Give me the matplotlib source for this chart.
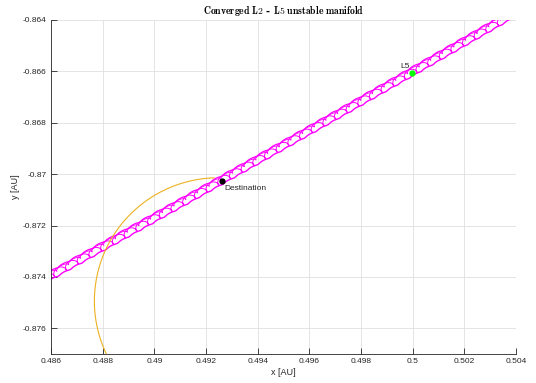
import numpy as np
import matplotlib.pyplot as plt

plt.rcParams['mathtext.fontset'] = 'cm'
plt.rcParams['font.family'] = ['Liberation Sans', 'DejaVu Sans']

# axis ranges and ticks
x_ticks = [0.486, 0.488, 0.49, 0.492, 0.494, 0.496, 0.498, 0.5, 0.502, 0.504]
y_ticks = [-0.876, -0.874, -0.872, -0.87, -0.868, -0.866, -0.864]
x_lim = (0.486, 0.504)
y_lim = (-0.877, -0.864)

# special points
L5 = (0.49999, -0.86606)
dest = (0.49262, -0.87025)

# manifold tube (polar, around the origin)
# each trajectory: mean radius, radial swing, along-track swing, phase, width
tube_step = 0.00052
tube_span = (-1.0650, -1.0410)
tube_r = [0.99983, 1.00013, 0.99998, 0.99990]
tube_dr = [0.00002, 0.00002, 0.00013, 0.00006]
tube_ds = [0.00004, 0.00003, 0.00011, 0.00010]
tube_ph = [0.0, 1.5, 3.1, 1.0]
tube_lw = [0.9, 1.0, 0.7, 0.6]

# transfer arc: centre, radius, start/end angle in degrees
arc_c = (0.49248, -0.87494)
arc_rad = 0.0048
arc_ang = (92.0, 250.0)

fig = plt.figure(figsize=(5.36, 3.83), dpi=100)
ax = fig.add_axes([0.0951, 0.0757, 0.8676, 0.8721])

t = np.linspace(tube_span[0], tube_span[1], 8000)
for r0, dr, ds, p, lw in zip(tube_r, tube_dr, tube_ds, tube_ph, tube_lw):
    w = 2*np.pi*(t - tube_span[0])/tube_step + p
    phi = t - ds*np.sin(w)
    r = r0 + dr*np.cos(w)
    ax.plot(r*np.cos(phi), r*np.sin(phi), color=(1, 0, 1), lw=lw)

a = np.radians(np.linspace(arc_ang[0], arc_ang[1], 400))
ax.plot(arc_c[0] + arc_rad*np.cos(a), arc_c[1] + arc_rad*np.sin(a),
        color='#EDB120', lw=0.8)

ax.plot(*L5, 'o', color=(0, 1, 0), ms=3.5)
ax.plot(*dest, 'o', color='k', ms=3.5)
ax.text(L5[0] - 0.0001, L5[1] + 0.0001, 'L5', fontsize=6, ha='right',
        va='bottom', color='#262626')
ax.text(dest[0] + 0.0001, dest[1] - 0.00018, 'Destination', fontsize=6,
        ha='left', va='top', color='#262626')

ax.set_xlim(x_lim)
ax.set_ylim(y_lim)
ax.set_xticks(x_ticks)
ax.set_yticks(y_ticks)
ax.set_xticklabels(['%g' % v for v in x_ticks])
ax.set_yticklabels(['%g' % v for v in y_ticks])
ax.tick_params(direction='in', length=4, width=0.6, labelsize=6,
               colors='#262626', pad=3)
for s in ['top', 'right']:
    ax.spines[s].set_visible(False)
for s in ['left', 'bottom']:
    ax.spines[s].set_color('#262626')
    ax.spines[s].set_linewidth(0.6)
ax.grid(True, color='#dfdfdf', lw=0.6)
ax.set_axisbelow(True)

ax.set_xlabel('x [AU]', fontsize=6.5, color='#262626', labelpad=2)
ax.set_ylabel('y [AU]', fontsize=6.5, color='#262626', labelpad=2)
ax.set_title(r'$\mathbf{Converged\ L2}$ - $\mathbf{L5\ unstable\ manifold}$',
             fontsize=7, pad=4, fontfamily='DejaVu Serif', fontweight='bold')

fig.savefig('out.png', dpi=100)
